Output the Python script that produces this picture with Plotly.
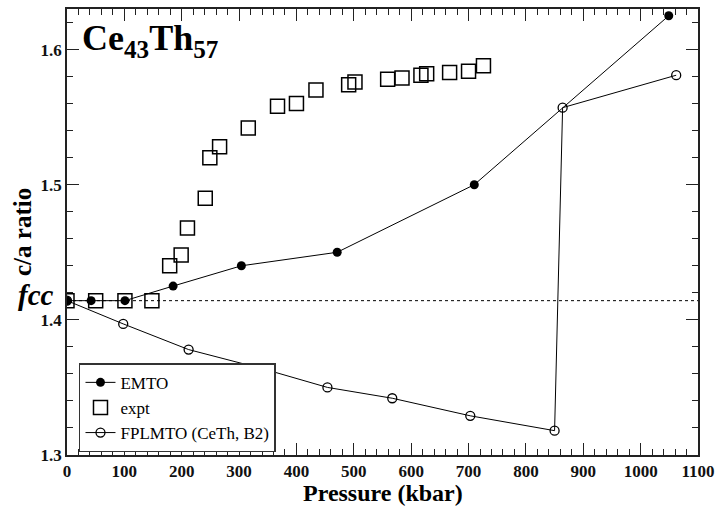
import plotly.graph_objects as go

# ---- data ----
emto_p = [0, 42, 101, 185, 304, 471, 710, 1049]
emto_ca = [1.4142, 1.4142, 1.4142, 1.425, 1.440, 1.450, 1.500, 1.625]

expt_p = [0, 50, 101, 148, 179, 199, 210, 241, 249, 266, 316, 367, 400, 434,
          491, 502, 559, 584, 617, 627, 667, 700, 726]
expt_ca = [1.4142, 1.4142, 1.4142, 1.4142, 1.440, 1.448, 1.468, 1.490, 1.520,
           1.528, 1.542, 1.558, 1.560, 1.570, 1.574, 1.576, 1.578, 1.579,
           1.581, 1.582, 1.583, 1.584, 1.588]

fp_p = [0, 98, 212, 348, 454, 567, 703, 850, 864, 1062]
fp_ca = [1.4142, 1.397, 1.378, 1.363, 1.350, 1.342, 1.329, 1.318, 1.557, 1.581]

fcc_ratio = 1.4142
x_ticks = list(range(0, 1101, 100))
y_ticks = [1.3, 1.4, 1.5, 1.6]
y_tick_text = ["<b>1.3</b>", "<b>1.4</b>", "<b>1.5</b>", "<b>1.6</b>"]
x_tick_text = [f"<b>{v}</b>" for v in x_ticks]

SERIF = "Liberation Serif"

fig = go.Figure()

fig.add_hline(y=fcc_ratio, line=dict(color="black", width=1, dash="dot"), layer="below")

fig.add_trace(go.Scatter(
    x=emto_p, y=emto_ca, name="EMTO", mode="lines+markers",
    line=dict(color="black", width=1),
    marker=dict(symbol="circle", size=9, color="black"),
))
fig.add_trace(go.Scatter(
    x=expt_p, y=expt_ca, name="expt", mode="markers",
    marker=dict(symbol="square-open", size=14, color="black", line=dict(width=1.5)),
))
fig.add_trace(go.Scatter(
    x=fp_p, y=fp_ca, name="FPLMTO (CeTh, B2)", mode="lines+markers",
    line=dict(color="black", width=1),
    marker=dict(symbol="circle-open", size=9, color="black", line=dict(width=1.3)),
))

axis_common = dict(
    showline=True, linecolor="#222", linewidth=1.5, mirror="allticks",
    ticks="inside", ticklen=12, tickwidth=1.3, tickcolor="#222",
    showgrid=False, zeroline=False,
    tickfont=dict(family=SERIF, size=17, color="#111"),
)

fig.update_xaxes(range=[0, 1100], tickvals=x_ticks, ticktext=x_tick_text,
                 minor=dict(ticks="inside", ticklen=6, dtick=20, tickcolor="#222", tickwidth=1.2),
                 **axis_common)
fig.update_yaxes(range=[1.3, 1.63], tickvals=y_ticks, ticktext=y_tick_text,
                 minor=dict(ticks="inside", ticklen=6, dtick=0.02, tick0=1.3, tickcolor="#222", tickwidth=1.2),
                 **axis_common)

fig.update_layout(
    width=722, height=506,
    margin=dict(l=67, r=20, t=7, b=51),
    plot_bgcolor="white", paper_bgcolor="white",
    font=dict(family=SERIF),
    showlegend=True,
    legend=dict(x=0.019, y=0.006, xanchor="left", yanchor="bottom",
                bgcolor="white", bordercolor="#333", borderwidth=1.5,
                font=dict(family=SERIF, size=17, color="black"),
                tracegroupgap=0, itemwidth=30),
    annotations=[
        dict(text="<b>Ce<sub>43</sub>Th<sub>57</sub></b>", xref="paper", yref="paper",
             x=0.021, y=0.985, xanchor="left", yanchor="top", showarrow=False,
             font=dict(family=SERIF, size=36, color="black")),
        dict(text="<b><i>fcc</i></b>", xref="paper", yref="y", x=0, y=fcc_ratio,
             xanchor="right", yanchor="middle", xshift=-11, yshift=6, showarrow=False,
             font=dict(family=SERIF, size=29, color="black")),
        dict(text="<b>c/a ratio</b>", xref="paper", yref="paper", x=0, y=0.5,
             xanchor="center", yanchor="middle", xshift=-45, textangle=-90, showarrow=False,
             font=dict(family=SERIF, size=25, color="black")),
        dict(text="<b>Pressure (kbar)</b>", xref="paper", yref="paper", x=0.5, y=0,
             xanchor="center", yanchor="middle", yshift=-38, showarrow=False,
             font=dict(family=SERIF, size=24, color="black")),
    ],
)

fig.write_html("out.html")
